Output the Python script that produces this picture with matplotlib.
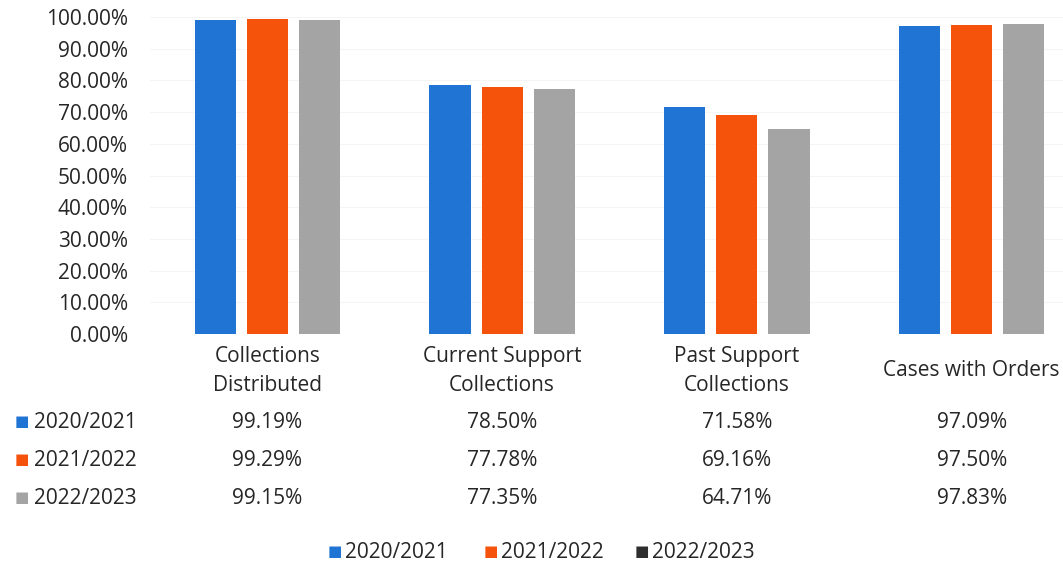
import matplotlib
matplotlib.use("Agg")
import matplotlib.pyplot as plt
import matplotlib.transforms as mtransforms
import numpy as np
from matplotlib.ticker import FuncFormatter

categories = ["Collections\nDistributed", "Current Support\nCollections",
              "Past Support\nCollections", "Cases with Orders"]
series_names = ["2020/2021", "2021/2022", "2022/2023"]
values_2020 = [99.19, 78.50, 71.58, 97.09]
values_2021 = [99.29, 77.78, 69.16, 97.50]
values_2022 = [99.15, 77.35, 64.71, 97.83]
series_values = [values_2020, values_2021, values_2022]
colors = ["#1f74d4", "#f5520c", "#a4a4a4"]
legend_colors = ["#1f74d4", "#f5520c", "#2e2e2e"]

plt.rcParams["font.family"] = ["Open Sans", "DejaVu Sans"]
text_color = "#262626"
fs = 15

W, H = 1063, 566
fig = plt.figure(figsize=(W / 100, H / 100), dpi=100)

# plot area in pixel coordinates (left, top, right, bottom)
left_px, right_px = 150, 1089
top_px, bottom_px = 17, 334
ax = fig.add_axes([left_px / W, 1 - bottom_px / H,
                   (right_px - left_px) / W, (bottom_px - top_px) / H])

x = np.arange(len(categories))
bar_w = 0.175
offset = 0.222
for i, (vals, c) in enumerate(zip(series_values, colors)):
    ax.bar(x + (i - 1) * offset, vals, width=bar_w, color=c, zorder=2)

ax.set_xlim(-0.5, len(categories) - 0.5)
ax.set_ylim(0, 100)
ax.set_yticks(np.arange(0, 101, 10))
ax.yaxis.set_major_formatter(FuncFormatter(lambda v, p: f"{v:.2f}%"))
ax.tick_params(axis="y", length=0, labelsize=fs, labelcolor=text_color, pad=16)
ax.set_xticks([])
ax.grid(axis="y", color="#f5f5f5", linewidth=0.8, zorder=0)
for s in ax.spines.values():
    s.set_visible(False)

# data table beneath the axes
trans = mtransforms.blended_transform_factory(ax.transData, fig.transFigure)
for xi, cat in zip(x, categories):
    ax.text(xi, 1 - 371 / H, cat, transform=trans, ha="center", va="center",
            fontsize=fs, color=text_color, linespacing=1.5)

row_y = [422, 461, 499]
for name, vals, c, ry in zip(series_names, series_values, colors, row_y):
    yf = 1 - ry / H
    fig.text(22 / W, yf, "■", ha="center", va="center", fontsize=11, color=c)
    fig.text(34 / W, yf, name, ha="left", va="center", fontsize=fs, color=text_color)
    for xi, v in zip(x, vals):
        ax.text(xi, yf, f"{v:.2f}%", transform=trans, ha="center", va="center",
                fontsize=fs, color=text_color)

# legend along the bottom
leg_x = [335, 491, 642]
for lx, name, c in zip(leg_x, series_names, legend_colors):
    fig.text(lx / W, 1 - 553 / H, "■", ha="center", va="center", fontsize=11, color=c)
    fig.text((lx + 10) / W, 1 - 553 / H, name, ha="left", va="center",
             fontsize=fs, color=text_color)

fig.savefig("out.png", dpi=100, facecolor="white")
